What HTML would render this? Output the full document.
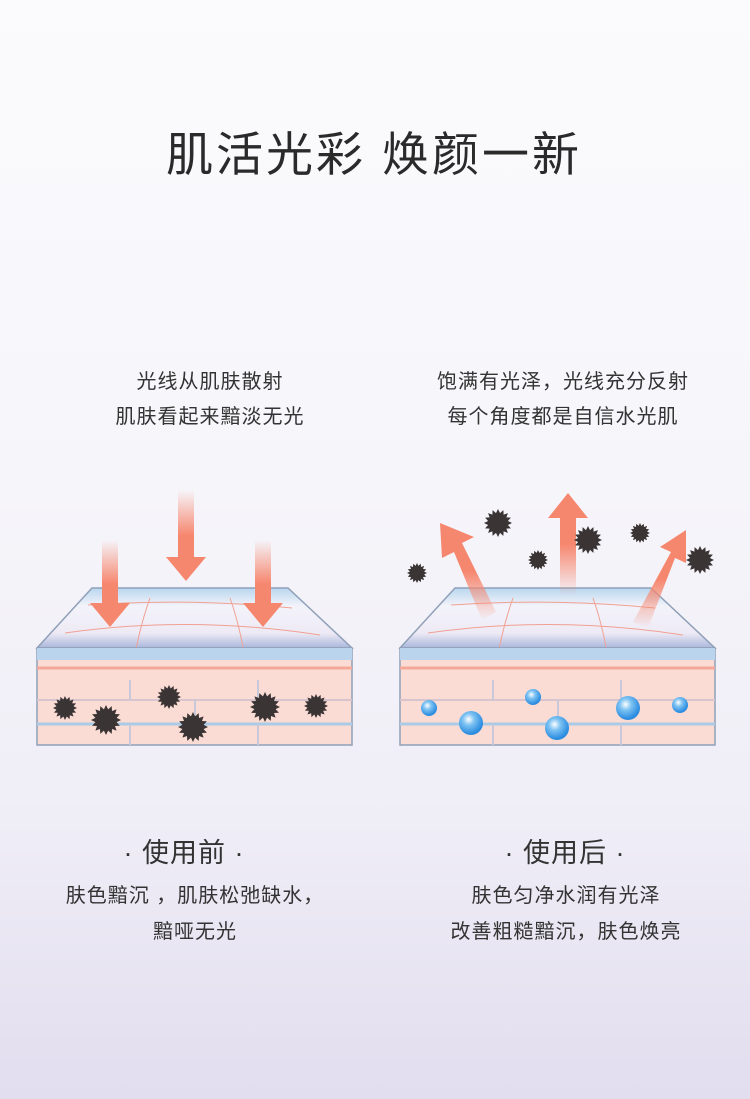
<!DOCTYPE html>
<html><head><meta charset="utf-8"><style>
html,body{margin:0;padding:0}
body{width:750px;height:1099px;overflow:hidden;position:relative;font-family:"Liberation Sans","Noto Sans CJK SC",sans-serif;color:#333;
background:linear-gradient(180deg,#fbfbfd 0%,#f6f5fa 45%,#efedf6 75%,#e2ddef 100%);}
.t{position:absolute;white-space:nowrap;text-align:center;transform:translateX(-50%)}
.s{font-size:20px;letter-spacing:1px}
</style></head><body>
<div class="t" style="left:374px;top:116px;font-size:47px;color:#2a2a2a;letter-spacing:3px">肌活光彩 焕颜一新</div>
<div class="t s" style="left:210px;top:365px">光线从肌肤散射</div>
<div class="t s" style="left:210px;top:400px">肌肤看起来黯淡无光</div>
<div class="t s" style="left:563px;top:365px">饱满有光泽，光线充分反射</div>
<div class="t s" style="left:563px;top:400px">每个角度都是自信水光肌</div>
<div class="t" style="left:184px;top:831px;font-size:27px;letter-spacing:1px">· 使用前 ·</div>
<div class="t s" style="left:195px;top:879px">肤色黯沉 ，肌肤松弛缺水，</div>
<div class="t s" style="left:195px;top:915px">黯哑无光</div>
<div class="t" style="left:565px;top:831px;font-size:27px;letter-spacing:1px">· 使用后 ·</div>
<div class="t s" style="left:566px;top:879px">肤色匀净水润有光泽</div>
<div class="t s" style="left:566px;top:915px">改善粗糙黯沉，肤色焕亮</div>
<svg id="s" width="750" height="1099" style="position:absolute;left:0;top:0">
<defs>
<linearGradient id="top" x1="0" y1="0" x2="0" y2="1">
<stop offset="0" stop-color="#b9d6ee"/><stop offset="0.3" stop-color="#f3f3fa"/><stop offset="0.75" stop-color="#eeeaf5"/><stop offset="1" stop-color="#a9b6dc"/></linearGradient>
<linearGradient id="ad" x1="0" y1="0" x2="0" y2="1"><stop offset="0" stop-color="#f6876f" stop-opacity="0"/><stop offset="0.5" stop-color="#f6876f"/></linearGradient>
<linearGradient id="au" x1="0" y1="1" x2="0" y2="0"><stop offset="0" stop-color="#f6876f" stop-opacity="0"/><stop offset="0.5" stop-color="#f6876f"/></linearGradient>
<radialGradient id="bub" cx="0.4" cy="0.35" r="0.6"><stop offset="0" stop-color="#ffffff"/><stop offset="0.4" stop-color="#7ec3f3"/><stop offset="1" stop-color="#2c8de0"/></radialGradient>
<g id="blk">
<polygon points="92,588 288,588 352,648 37,648" fill="url(#top)" stroke="#8fa0b8" stroke-width="1.5"/>
<path d="M65,633 Q190,615 320,635 M88,605 Q190,598 292,608 M150,598 Q135,640 130,690 M230,598 Q245,640 250,700" stroke="#f0a092" fill="none" stroke-width="1"/>
<rect x="37" y="648" width="315" height="97" fill="#fbdcd4" stroke="#8fa0b8" stroke-width="1.5"/>
<rect x="37" y="648" width="315" height="12" fill="#b9d4ec"/>
<line x1="37" y1="668" x2="352" y2="668" stroke="#f4a898" stroke-width="3"/>
<line x1="37" y1="700" x2="352" y2="700" stroke="#d8c4cc" stroke-width="2"/>
<line x1="37" y1="724" x2="352" y2="724" stroke="#a9cbe6" stroke-width="3"/>
<path d="M130,680 V700 M195,700 V724 M130,724 V745 M258,724 V745 M258,680 V700" stroke="#c8c8d8" stroke-width="2"/>
</g>
</defs>
<use href="#blk"/>
<use href="#blk" x="363"/>
<g fill="url(#ad)">
<polygon points="102,540 118,540 118,603 130,603 110,627 90,603 102,603"/>
<polygon points="178,490 194,490 194,557 206,557 186,581 166,557 178,557"/>
<polygon points="255,540 271,540 271,603 283,603 263,627 243,603 255,603"/>
</g>
<g fill="url(#au)">
<polygon points="560,595 576,595 576,518 588,518 568,493 548,518 560,518"/>
<polygon points="482,620 496,612 462,543 474,537 440,523 442,558 454,552"/>
<polygon points="633,622 648,628 675,558 686,563 686,530 660,547 671,552"/>
</g>
<g id="stars" fill="#3a3434"></g>
<g id="bubs"></g>
</svg>
<script>
var st=[[65,708,12],[106,720,15],[169,697,12],[193,727,15],[265,707,15],[316,706,12],[417,573,10],[498,523,14],[538,560,10],[588,540,14],[640,533,10],[700,560,14]];
var g=document.getElementById('stars'),ns="http://www.w3.org/2000/svg";
st.forEach(function(s){var p=[],n=16;for(var i=0;i<2*n;i++){var r=i%2?s[2]*0.72:s[2],a=i*Math.PI/n;p.push((s[0]+r*Math.cos(a)).toFixed(1)+","+(s[1]+r*Math.sin(a)).toFixed(1));}
var e=document.createElementNS(ns,"polygon");e.setAttribute("points",p.join(" "));g.appendChild(e);});
var bb=[[429,708,8],[471,723,12],[533,697,8],[557,728,12],[628,708,12],[680,705,8]];
var b=document.getElementById('bubs');
bb.forEach(function(s){var e=document.createElementNS(ns,"circle");e.setAttribute("cx",s[0]);e.setAttribute("cy",s[1]);e.setAttribute("r",s[2]);e.setAttribute("fill","url(#bub)");b.appendChild(e);});
</script>
</body></html>
